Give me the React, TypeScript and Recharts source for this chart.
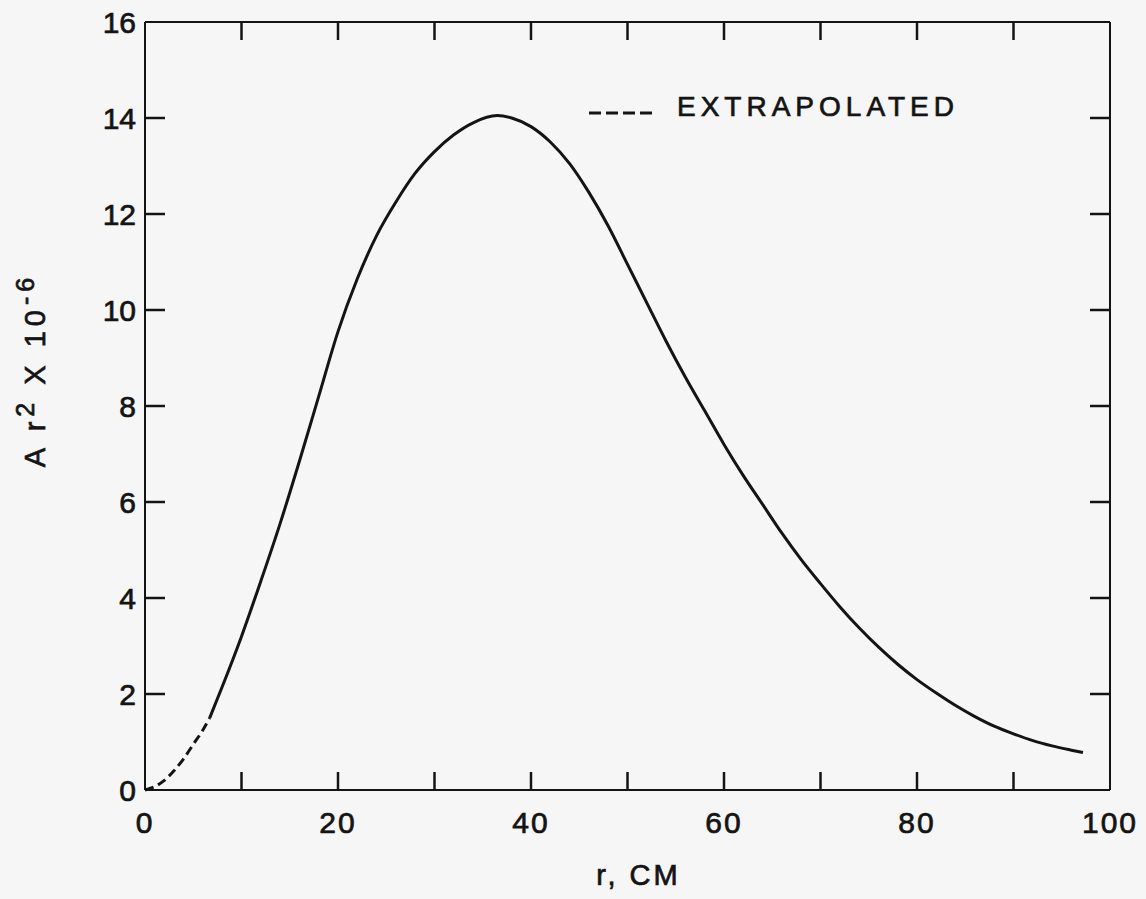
import React from 'react';
import { LineChart, Line, XAxis, YAxis, ReferenceLine, Label } from 'recharts';

// measured curve (solid part)
const rMeasured = [6.7, 8, 10, 12, 14, 16, 18, 20, 22, 24, 26, 28, 30, 32, 34, 36.5, 38, 40, 42, 44, 46, 48, 50, 52, 54, 56, 58, 60, 62, 64, 66, 68, 70, 72, 74, 76, 78, 80, 82, 84, 86, 88, 90, 92, 94, 96, 97.2];
const arMeasured = [1.5, 2.15, 3.2, 4.35, 5.55, 6.85, 8.2, 9.55, 10.65, 11.55, 12.25, 12.85, 13.3, 13.65, 13.9, 14.05, 14.0, 13.82, 13.5, 13.05, 12.45, 11.75, 10.95, 10.15, 9.35, 8.6, 7.9, 7.2, 6.55, 5.95, 5.35, 4.8, 4.3, 3.82, 3.38, 2.98, 2.62, 2.3, 2.02, 1.76, 1.53, 1.33, 1.17, 1.03, 0.92, 0.83, 0.78];

// extrapolated tail near the origin (dashed)
const rExtrap = [0, 1, 2, 3, 4, 5, 6, 6.7];
const arExtrap = [0, 0.07, 0.2, 0.4, 0.65, 0.95, 1.25, 1.5];

const xTickLabels = [0, 20, 40, 60, 80, 100];
const yTickLabels = [0, 2, 4, 6, 8, 10, 12, 14, 16];
const xMarks = [10, 20, 30, 40, 50, 60, 70, 80, 90];
const yMarks = [2, 4, 6, 8, 10, 12, 14];

const measured = rMeasured.map((r, i) => ({ r, v: arMeasured[i] }));
const extrap = rExtrap.map((r, i) => ({ r, v: arExtrap[i] }));

const INK = '#141414';
const FONT = '"Liberation Sans", Arial, sans-serif';

// inward tick lengths, in axis units (about 18px and 20px)
const X_TICK_LEN = 0.375;
const Y_TICK_LEN = 2.07;

// slightly heavier lettering than the regular weight
const textInk = { fill: INK, stroke: INK, strokeWidth: 0.7 };

const YTitle = () => (
  <text
    x={45}
    y={370}
    transform="rotate(-90 45 370)"
    textAnchor="middle"
    fontFamily={FONT}
    fontSize={29}
    letterSpacing={5}
    {...textInk}
  >
    A r<tspan dy={-11} fontSize={25}>2</tspan>
    <tspan dy={11}> X 10</tspan>
    <tspan dy={-11} fontSize={25}>-6</tspan>
  </text>
);

const XTitle = (props: any) => {
  const { viewBox } = props;
  const cx = viewBox.x + viewBox.width / 2 + 11;
  return (
    <text x={cx} y={885} textAnchor="middle" fontFamily={FONT} fontSize={29} letterSpacing={3} {...textInk}>
      r,  CM
    </text>
  );
};

export default function App() {
  return (
    <div style={{ position: 'absolute', left: 0, top: 0, width: 1146, height: 899, background: '#f6f6f6' }}>
      <LineChart width={1146} height={899} margin={{ top: 22, right: 36, left: 85, bottom: 0 }}>
        <XAxis
          dataKey="r"
          type="number"
          domain={[0, 100]}
          ticks={xTickLabels}
          interval={0}
          height={109}
          tickSize={0}
          tickMargin={22}
          tickLine={false}
          axisLine={{ stroke: INK, strokeWidth: 2 }}
          tick={{ ...textInk, fontSize: 30, fontFamily: FONT, letterSpacing: 2 }}
        >
          <Label content={<XTitle />} />
        </XAxis>
        <YAxis
          type="number"
          domain={[0, 16]}
          ticks={yTickLabels}
          interval={0}
          width={60}
          tickSize={0}
          tickMargin={9}
          tickLine={false}
          axisLine={{ stroke: INK, strokeWidth: 2 }}
          tick={{ ...textInk, fontSize: 30, fontFamily: FONT }}
        >
          <Label content={<YTitle />} />
        </YAxis>

        {/* frame: top and right edges */}
        <ReferenceLine y={16} stroke={INK} strokeWidth={2} />
        <ReferenceLine x={100} stroke={INK} strokeWidth={2} />

        {/* inward tick marks on all four sides */}
        {xMarks.map((t) => (
          <ReferenceLine key={`xb${t}`} segment={[{ x: t, y: 0 }, { x: t, y: X_TICK_LEN }]} stroke={INK} strokeWidth={2.5} />
        ))}
        {xMarks.map((t) => (
          <ReferenceLine key={`xt${t}`} segment={[{ x: t, y: 16 }, { x: t, y: 16 - X_TICK_LEN }]} stroke={INK} strokeWidth={2.5} />
        ))}
        {yMarks.map((t) => (
          <ReferenceLine key={`yl${t}`} segment={[{ x: 0, y: t }, { x: Y_TICK_LEN, y: t }]} stroke={INK} strokeWidth={2.5} />
        ))}
        {yMarks.map((t) => (
          <ReferenceLine key={`yr${t}`} segment={[{ x: 100, y: t }, { x: 100 - Y_TICK_LEN, y: t }]} stroke={INK} strokeWidth={2.5} />
        ))}

        <Line
          data={extrap}
          dataKey="v"
          type="monotone"
          stroke={INK}
          strokeWidth={3}
          strokeDasharray="9 5"
          dot={false}
          isAnimationActive={false}
        />
        <Line
          data={measured}
          dataKey="v"
          type="monotone"
          stroke={INK}
          strokeWidth={3}
          dot={false}
          isAnimationActive={false}
        />
      </LineChart>

      {/* key for the dashed curve */}
      <div style={{ position: 'absolute', left: 587, top: 93, display: 'flex', alignItems: 'center' }}>
        <svg width={68} height={28}>
          <line x1={2} y1={20} x2={66} y2={20} stroke={INK} strokeWidth={3} strokeDasharray="12 5" />
        </svg>
        <span
          style={{
            marginLeft: 22,
            fontFamily: FONT,
            fontSize: 28,
            letterSpacing: 5,
            color: INK,
            lineHeight: '28px',
            WebkitTextStroke: `0.7px ${INK}`,
          }}
        >
          EXTRAPOLATED
        </span>
      </div>
    </div>
  );
}
